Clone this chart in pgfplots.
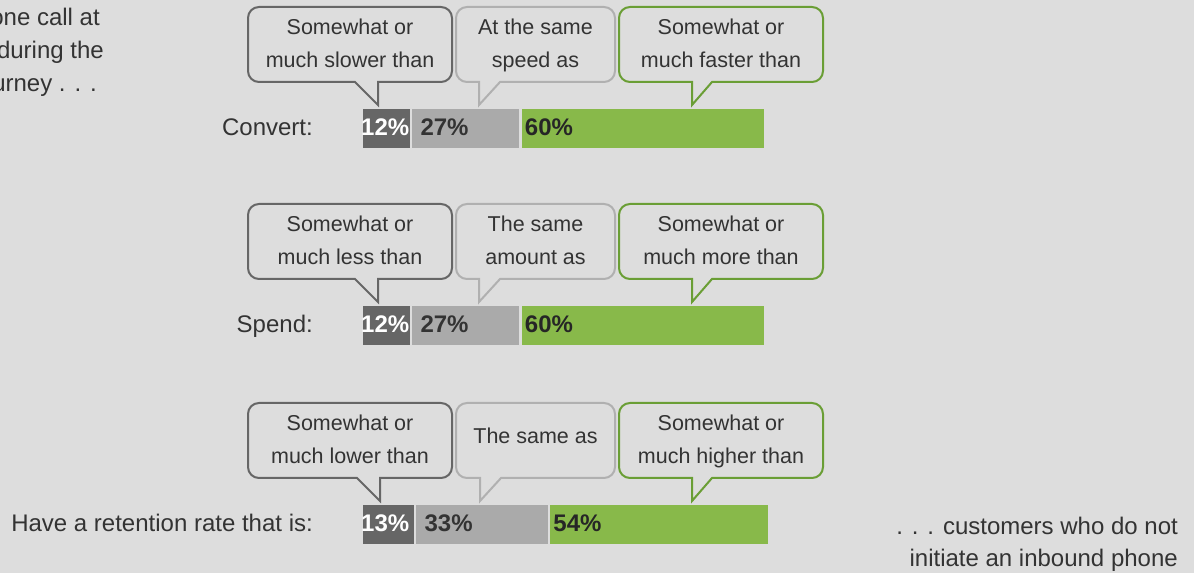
\documentclass[border=0pt]{standalone}
\usepackage{pgfplots}
\pgfplotsset{compat=1.18}
\usepackage{fontspec}
\setmainfont{Liberation Sans}

\definecolor{bg}{HTML}{DDDDDD}
\definecolor{darkbar}{HTML}{666666}
\definecolor{lightbar}{HTML}{AAAAAA}
\definecolor{greenbar}{HTML}{88B94A}
\definecolor{greenline}{HTML}{6A9E35}
\definecolor{lightline}{HTML}{B0B0B0}
\definecolor{txt}{HTML}{333333}

\newcommand{\lblfont}{\fontsize{24}{28}\selectfont}
\newcommand{\boxfont}{\fontsize{21.5}{26}\selectfont}

% speech bubble: x1, x2, top, bottom, tail left, tail right, tip x, tip y, colour
\newcommand{\bubble}[9]{%
  \draw[#9, line width=2pt, fill=bg, line join=miter]
    (#7,#8) -- (#6,#4) -- ({#2-11},#4) arc[start angle=90,end angle=0,radius=11]
    -- (#2,{#3+11}) arc[start angle=0,end angle=-90,radius=11]
    -- ({#1+11},#3) arc[start angle=270,end angle=180,radius=11]
    -- (#1,{#4-11}) arc[start angle=180,end angle=90,radius=11]
    -- (#5,#4) -- cycle;}

\pgfplotsset{barframe/.style={
  at={(362pt,573pt)}, anchor=origin,
  scale only axis, width=407pt, height=573pt,
  xmin=0, xmax=100, ymin=0, ymax=573, y dir=reverse,
  clip=false}}

\begin{document}
\begin{tikzpicture}
\fill[bg] (0pt,0pt) rectangle (1194pt,573pt);

% bars
\begin{axis}[
  barframe,
  xbar stacked, bar width=41.5pt,
  axis lines=left, axis line style={draw=none},
  xtick=\empty, ytick={128.5,325.5,524.5},
  yticklabels={Convert:,Spend:,Have a retention rate that is:},
  major tick length=0pt,
  yticklabel style={anchor=base east, inner sep=0pt, xshift=-49pt, yshift=-7pt, font=\lblfont, text=txt},
]
\addplot[fill=darkbar, draw=bg, line width=2.5pt]
  coordinates {(12,128.5) (12,325.5) (13,524.5)};
\addplot[fill=lightbar, draw=bg, line width=2.5pt]
  coordinates {(27,128.5) (27,325.5) (33,524.5)};
\addplot[fill=greenbar, draw=bg, line width=2.5pt]
  coordinates {(60,128.5) (60,325.5) (54,524.5)};
\end{axis}

% percentage labels, at the start of each segment
\begin{axis}[
  barframe, hide axis,
  every node near coord/.append style={anchor=base west, inner sep=0pt, yshift=-7pt, font=\bfseries\lblfont},
]
\addplot[only marks, mark=none, point meta=explicit symbolic, nodes near coords,
  every node near coord/.append style={text=white, xshift=-1pt}]
  coordinates {(0,128.5)[12\%] (0,325.5)[12\%] (0,524.5)[13\%]};
\addplot[only marks, mark=none, point meta=explicit symbolic, nodes near coords,
  every node near coord/.append style={text=txt, xshift=9.5pt}]
  coordinates {(12,128.5)[27\%] (12,325.5)[27\%] (13,524.5)[33\%]};
\addplot[only marks, mark=none, point meta=explicit symbolic, nodes near coords,
  every node near coord/.append style={text=black!85, xshift=4pt}]
  coordinates {(39,128.5)[60\%] (39,325.5)[60\%] (46,524.5)[54\%]};
\end{axis}

\begin{scope}[x=1pt, y=-1pt, shift={(0pt,573pt)}, every node/.style={text=txt, inner sep=0pt}]
  \node[anchor=base east, font=\lblfont] at (100,26) {one call at};
  \node[anchor=base east, font=\lblfont] at (104,59) {during the};
  \node[anchor=base east, font=\lblfont] at (97,92) {urney . . .};
  \node[anchor=base east, font=\lblfont] at (1178,535) {. . . customers who do not};
  \node[anchor=base east, font=\lblfont] at (1178,566) {initiate an inbound phone};

  % convert
  \bubble{248}{452}{7}{82}{355}{378}{378}{105}{darkbar}
  \bubble{456}{615}{7}{82}{479}{500}{479}{105}{lightline}
  \bubble{619}{823}{7}{82}{692}{712}{692}{105}{greenline}
  \node[anchor=base, font=\boxfont] at (350,35) {Somewhat or};
  \node[anchor=base, font=\boxfont] at (350,68) {much slower than};
  \node[anchor=base, font=\boxfont] at (535.5,35) {At the same};
  \node[anchor=base, font=\boxfont] at (535.5,68) {speed as};
  \node[anchor=base, font=\boxfont] at (721,35) {Somewhat or};
  \node[anchor=base, font=\boxfont] at (721,68) {much faster than};

  % spend
  \begin{scope}[shift={(0,197)}]
  \bubble{248}{452}{7}{82}{355}{378}{378}{105}{darkbar}
  \bubble{456}{615}{7}{82}{479}{500}{479}{105}{lightline}
  \bubble{619}{823}{7}{82}{692}{712}{692}{105}{greenline}
  \node[anchor=base, font=\boxfont] at (350,35) {Somewhat or};
  \node[anchor=base, font=\boxfont] at (350,68) {much less than};
  \node[anchor=base, font=\boxfont] at (535.5,35) {The same};
  \node[anchor=base, font=\boxfont] at (535.5,68) {amount as};
  \node[anchor=base, font=\boxfont] at (721,35) {Somewhat or};
  \node[anchor=base, font=\boxfont] at (721,68) {much more than};
  \end{scope}

  % retention
  \begin{scope}[shift={(0,396)}]
  \bubble{248}{452}{7}{82}{357}{380}{380}{105}{darkbar}
  \bubble{456}{615}{7}{82}{480}{501}{480}{105}{lightline}
  \bubble{619}{823}{7}{82}{692}{712}{692}{105}{greenline}
  \node[anchor=base, font=\boxfont] at (350,35) {Somewhat or};
  \node[anchor=base, font=\boxfont] at (350,68) {much lower than};
  \node[anchor=base, font=\boxfont] at (535.5,48) {The same as};
  \node[anchor=base, font=\boxfont] at (721,35) {Somewhat or};
  \node[anchor=base, font=\boxfont] at (721,68) {much higher than};
  \end{scope}
\end{scope}

\pgfresetboundingbox
\path[use as bounding box] (0pt,0pt) rectangle (1194pt,573pt);
\end{tikzpicture}
\end{document}
